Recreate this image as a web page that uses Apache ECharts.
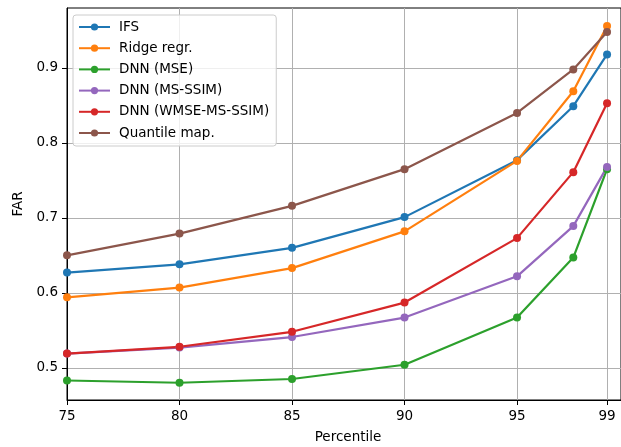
<!DOCTYPE html>
<html>
<head>
<meta charset="utf-8">
<script src="https://cdn.jsdelivr.net/npm/echarts@6/dist/echarts.min.js"></script>
<style>
  html, body { margin: 0; padding: 0; background: #fff; }
  #chart { width: 621px; height: 447px; }
</style>
</head>
<body>
<div id="chart"></div>
<script>
// Percentile thresholds on the x axis
const percentiles = [75, 80, 85, 90, 95, 97.5, 99];
const xTicks = [75, 80, 85, 90, 95, 99];
const yTicks = [0.5, 0.6, 0.7, 0.8, 0.9];

// False alarm ratio per method
const ifs       = [0.627, 0.638, 0.660, 0.701, 0.777, 0.849, 0.918];
const ridge     = [0.594, 0.607, 0.633, 0.682, 0.776, 0.869, 0.956];
const dnnMse    = [0.483, 0.480, 0.485, 0.504, 0.567, 0.647, 0.765];
const dnnSsim   = [0.519, 0.527, 0.541, 0.567, 0.622, 0.689, 0.768];
const dnnWmse   = [0.519, 0.528, 0.548, 0.587, 0.673, 0.761, 0.853];
const quantile  = [0.650, 0.679, 0.716, 0.765, 0.840, 0.898, 0.948];

const seriesDefs = [
  { name: 'IFS', values: ifs, color: '#1f77b4' },
  { name: 'Ridge regr.', values: ridge, color: '#ff7f0e' },
  { name: 'DNN (MSE)', values: dnnMse, color: '#2ca02c' },
  { name: 'DNN (MS-SSIM)', values: dnnSsim, color: '#9467bd' },
  { name: 'DNN (WMSE-MS-SSIM)', values: dnnWmse, color: '#d62728' },
  { name: 'Quantile map.', values: quantile, color: '#8c564b' }
];

const font = 'DejaVu Sans';
const fs = 13.5;

const chart = echarts.init(document.getElementById('chart'), null, { renderer: 'canvas' });

chart.setOption({
  animation: false,
  backgroundColor: '#fff',
  textStyle: { fontFamily: font },
  grid: {
    left: 67, top: 8, right: 0, bottom: 47,
    show: true, borderColor: '#000', borderWidth: 1, backgroundColor: 'transparent'
  },
  legend: {
    left: 73, top: 15,
    orient: 'vertical',
    itemWidth: 31, itemHeight: 9, itemGap: 7.2,
    padding: [5, 7, 6, 5],
    backgroundColor: 'rgba(255,255,255,0.8)',
    borderColor: '#cccccc', borderWidth: 1, borderRadius: 3,
    textStyle: { fontFamily: font, fontSize: fs, color: '#000', lineHeight: 14, padding: [0, 0, 0, 4] },
    data: seriesDefs.map(s => s.name)
  },
  graphic: [
    {
      // x-axis title, centred under the full plot span
      type: 'text', x: 348, y: 437,
      style: {
        text: 'Percentile', font: fs + 'px "' + font + '"', fill: '#000',
        textAlign: 'center', textVerticalAlign: 'middle'
      }
    }
  ],
  xAxis: {
    type: 'value',
    min: 75, max: 99.62,
    axisLine: { show: true, onZero: false, lineStyle: { color: '#000', width: 1 } },
    axisTick: { show: true, length: 5, lineStyle: { color: '#000' }, customValues: xTicks },
    axisLabel: { fontFamily: font, fontSize: fs, color: '#000', margin: 9, customValues: xTicks },
    splitLine: { show: true, lineStyle: { color: '#b0b0b0', width: 1 } }
  },
  yAxis: {
    type: 'value',
    min: 0.457, max: 0.98,
    name: 'FAR',
    nameLocation: 'middle',
    nameGap: 39,
    nameRotate: 90,
    nameTextStyle: { fontFamily: font, fontSize: fs, color: '#000' },
    axisLine: { show: true, onZero: false, lineStyle: { color: '#000', width: 1 } },
    axisTick: { show: true, length: 5, lineStyle: { color: '#000' }, customValues: yTicks },
    axisLabel: {
      fontFamily: font, fontSize: fs, color: '#000', margin: 9,
      customValues: yTicks,
      formatter: v => v.toFixed(1)
    },
    splitLine: { show: true, lineStyle: { color: '#b0b0b0', width: 1 } }
  },
  series: seriesDefs.map(s => ({
    name: s.name,
    type: 'line',
    data: percentiles.map((p, i) => [p, s.values[i]]),
    symbol: 'circle',
    symbolSize: 8,
    showAllSymbol: true,
    color: s.color,
    lineStyle: { color: s.color, width: 2.2 },
    itemStyle: { color: s.color, borderWidth: 0 },
    emphasis: { disabled: true }
  }))
});
</script>
</body>
</html>
